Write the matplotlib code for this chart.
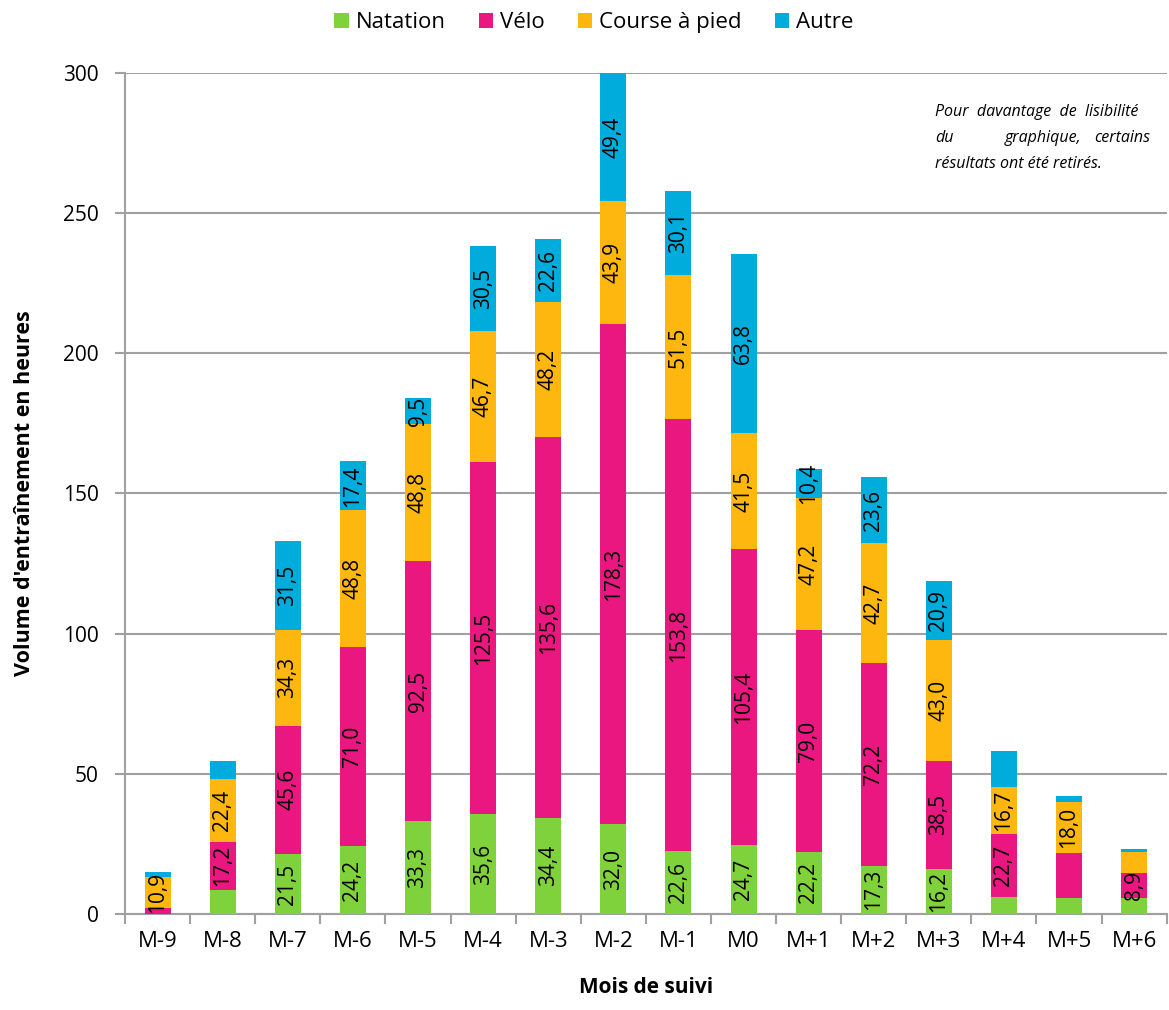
import matplotlib
matplotlib.use("Agg")
import matplotlib.pyplot as plt
import numpy as np

plt.rcParams['font.family'] = ['Open Sans', 'DejaVu Sans']

# Données (heures par mois)
mois = ["M-9", "M-8", "M-7", "M-6", "M-5", "M-4", "M-3", "M-2",
        "M-1", "M0", "M+1", "M+2", "M+3", "M+4", "M+5", "M+6"]
natation = [0.0, 8.6, 21.5, 24.2, 33.3, 35.6, 34.4, 32.0,
            22.6, 24.7, 22.2, 17.3, 16.2, 6.0, 5.8, 5.6]
velo = [2.3, 17.2, 45.6, 71.0, 92.5, 125.5, 135.6, 178.3,
        153.8, 105.4, 79.0, 72.2, 38.5, 22.7, 16.0, 8.9]
course = [10.9, 22.4, 34.3, 48.8, 48.8, 46.7, 48.2, 43.9,
          51.5, 41.5, 47.2, 42.7, 43.0, 16.7, 18.0, 7.8]
autre = [1.8, 6.5, 31.5, 17.4, 9.5, 30.5, 22.6, 49.4,
         30.1, 63.8, 10.4, 23.6, 20.9, 12.7, 2.3, 1.0]

# étiquettes affichées (certaines retirées)
show_nat = [0, 0, 1, 1, 1, 1, 1, 1, 1, 1, 1, 1, 1, 0, 0, 0]
show_velo = [0, 1, 1, 1, 1, 1, 1, 1, 1, 1, 1, 1, 1, 1, 0, 1]
show_course = [1, 1, 1, 1, 1, 1, 1, 1, 1, 1, 1, 1, 1, 1, 1, 0]
show_autre = [0, 0, 1, 1, 1, 1, 1, 1, 1, 1, 1, 1, 1, 0, 0, 0]

series = [("Natation", natation, show_nat, "#80D23C"),
          ("Vélo", velo, show_velo, "#E9177F"),
          ("Course à pied", course, show_course, "#FEB70F"),
          ("Autre", autre, show_autre, "#00ACDB")]

YMAX = 300
grid_col = "#A0A0A0"

fig = plt.figure(figsize=(11.69, 10.10), dpi=100)
ax = fig.add_axes([0.107, 0.095, 0.891, 0.833])

x = np.arange(len(mois))
bottom = np.zeros(len(mois))
for name, vals, show, col in series:
    vals = np.array(vals)
    ax.bar(x, vals, 0.4, bottom=bottom, color=col, label=name, zorder=3)
    for i in range(len(mois)):
        if show[i]:
            lo = bottom[i]
            hi = min(bottom[i] + vals[i], YMAX)
            txt = ("%.1f" % vals[i]).replace(".", ",")
            ax.text(x[i], (lo + hi) / 2, txt, rotation=90, ha="center",
                    va="center", fontsize=15, color="black", zorder=4)
    bottom = bottom + vals

ax.set_xlim(-0.5, len(mois) - 0.5)
ax.set_ylim(0, YMAX)
ax.set_yticks(range(0, 301, 50))
ax.yaxis.grid(True, color=grid_col, linewidth=1.5, zorder=0)
ax.set_xticks(x)
ax.set_xticklabels(mois, fontsize=16)
ax.set_xticks(np.arange(-0.5, len(mois), 1), minor=True)
ax.tick_params(axis="x", which="major", length=0, pad=12)
ax.tick_params(axis="x", which="minor", length=7, width=1.5, color=grid_col)
ax.tick_params(axis="y", length=7, width=1.5, color=grid_col, labelsize=15, pad=12)

for s in ["top", "right"]:
    ax.spines[s].set_visible(False)
for s in ["left", "bottom"]:
    ax.spines[s].set_color(grid_col)
    ax.spines[s].set_linewidth(1.5)

ax.set_ylabel("Volume d'entraînement en heures", fontsize=15.5,
              fontweight="bold", labelpad=20)
ax.set_xlabel("Mois de suivi", fontsize=15, fontweight="bold", labelpad=18)

leg = fig.legend(loc="upper center", bbox_to_anchor=(0.508, 1.008), ncol=4,
                 frameon=False, fontsize=16, handlelength=0.65, handleheight=0.65,
                 handletextpad=0.3, columnspacing=1.5)

# note en haut à droite (texte justifié)
nx0, nx1 = 0.800, 0.984
ax_note = dict(fontsize=11.5, style="italic", transform=fig.transFigure)
fig.text(nx0, 0.889, "Pour  davantage  de  lisibilité", ha="left", va="center", **ax_note)
fig.text(nx0, 0.863, "du", ha="left", va="center", **ax_note)
fig.text((nx0 + nx1) / 2, 0.863, "graphique,", ha="center", va="center", **ax_note)
fig.text(nx1, 0.863, "certains", ha="right", va="center", **ax_note)
fig.text(nx0, 0.838, "résultats ont été retirés.", ha="left", va="center", **ax_note)

fig.savefig("out.png", dpi=100)
